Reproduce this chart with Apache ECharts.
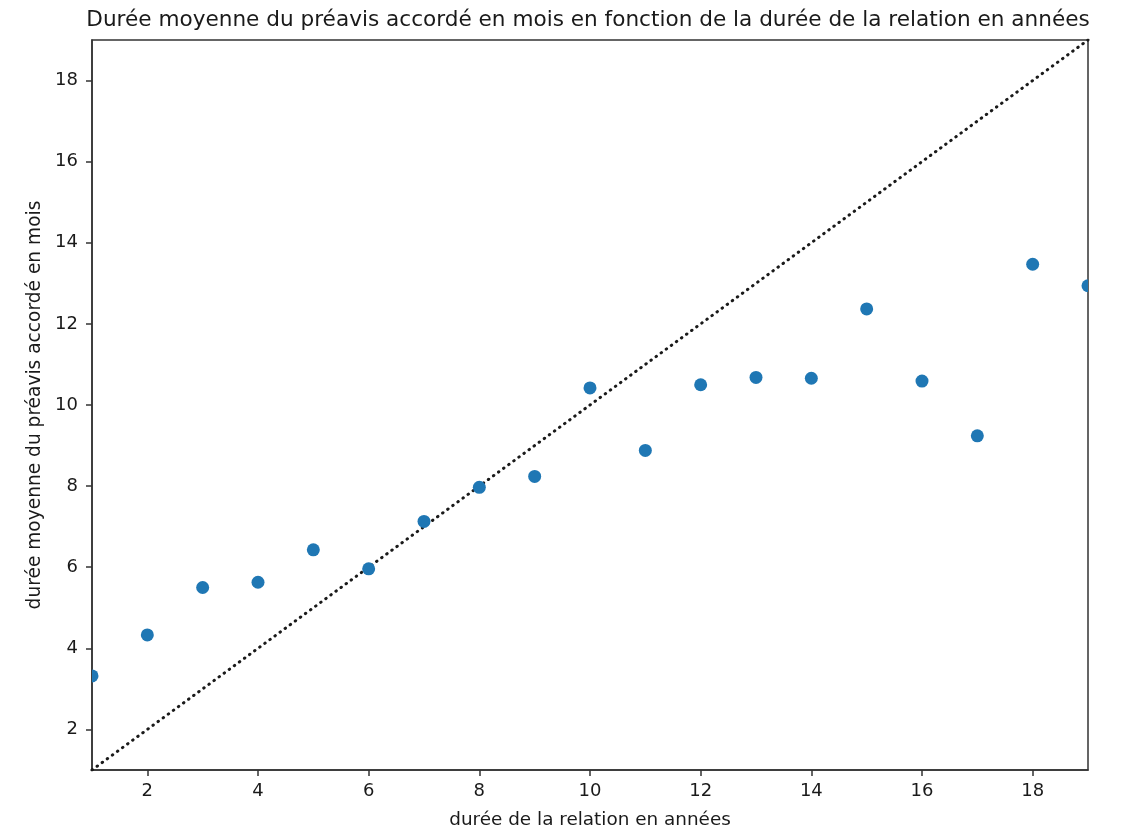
<!DOCTYPE html>
<html>
<head>
<meta charset="utf-8">
<script src="https://cdn.jsdelivr.net/npm/echarts@6/dist/echarts.min.js"></script>
<style>
  html, body { margin: 0; padding: 0; background: #fff; }
  #chart { width: 1123px; height: 828px; }
</style>
</head>
<body>
<div id="chart"></div>
<script>
// durée de la relation (années) et préavis moyen accordé (mois)
const annees = [1, 2, 3, 4, 5, 6, 7, 8, 9, 10, 11, 12, 13, 14, 15, 16, 17, 18, 19];
const preavis = [3.32, 4.33, 5.5, 5.63, 6.43, 5.96, 7.13, 7.97, 8.24, 10.42, 8.88, 10.5, 10.68, 10.66, 12.37, 10.59, 9.24, 13.47, 12.94];

// droite y = x
const diagX = [1, 19];
const diagY = [1, 19];

const xTicks = [2, 4, 6, 8, 10, 12, 14, 16, 18];
const yTicks = [2, 4, 6, 8, 10, 12, 14, 16, 18];

const font = 'DejaVu Sans';
const ink = '#1a1a1a';

let chart = echarts.init(document.getElementById('chart'), null, { renderer: 'canvas' });

let option = {
  animation: false,
  title: {
    text: 'Durée moyenne du préavis accordé en mois en fonction de la durée de la relation en années',
    left: 583,
    textAlign: 'center',
    top: 4,
    textStyle: { fontFamily: font, fontSize: 21.6, fontWeight: 'normal', color: ink }
  },
  grid: {
    left: 92, right: 35, top: 40, bottom: 58,
    outerBoundsMode: 'none',
    containLabel: false,
    show: true, borderColor: '#333', borderWidth: 1.5
  },
  xAxis: {
    type: 'value', min: 1, max: 19,
    name: 'durée de la relation en années',
    nameLocation: 'middle', nameGap: 41,
    nameTextStyle: { fontFamily: font, fontSize: 18.4, color: ink },
    axisLine: { show: true, lineStyle: { color: '#333', width: 1.5 } },
    axisTick: { show: true, length: 6, lineStyle: { color: '#333', width: 1.5 }, customValues: xTicks },
    axisLabel: { fontFamily: font, fontSize: 18, color: ink, margin: 12, customValues: xTicks },
    splitLine: { show: false }
  },
  yAxis: {
    type: 'value', min: 1, max: 19,
    name: 'durée moyenne du préavis accordé en mois',
    nameLocation: 'middle', nameGap: 47,
    nameTextStyle: { fontFamily: font, fontSize: 18.6, color: ink },
    axisLine: { show: true, lineStyle: { color: '#333', width: 1.5 } },
    axisTick: { show: true, length: 6, lineStyle: { color: '#333', width: 1.5 }, customValues: yTicks },
    axisLabel: { fontFamily: font, fontSize: 18, color: ink, margin: 14, customValues: yTicks },
    splitLine: { show: false }
  },
  series: [
    {
      type: 'line',
      data: diagX.map((x, i) => [x, diagY[i]]),
      showSymbol: false,
      symbol: 'none',
      lineStyle: { color: '#1a1a1a', width: 3, type: [0.5, 5.8], cap: 'round' },
      z: 1
    },
    {
      // cercles dessinés via custom pour être coupés au bord du cadre
      type: 'custom',
      data: annees.map((x, i) => [x, preavis[i]]),
      encode: { x: 0, y: 1 },
      clip: true,
      renderItem: function(params, api){
        let p = api.coord([api.value(0), api.value(1)]);
        return {
          type: 'circle',
          shape: { cx: p[0], cy: p[1], r: 6.5 },
          style: { fill: '#1f77b4' }
        };
      },
      z: 2
    }
  ]
};

chart.setOption(option);
window.addEventListener('resize', chart.resize);
</script>
</body>
</html>
